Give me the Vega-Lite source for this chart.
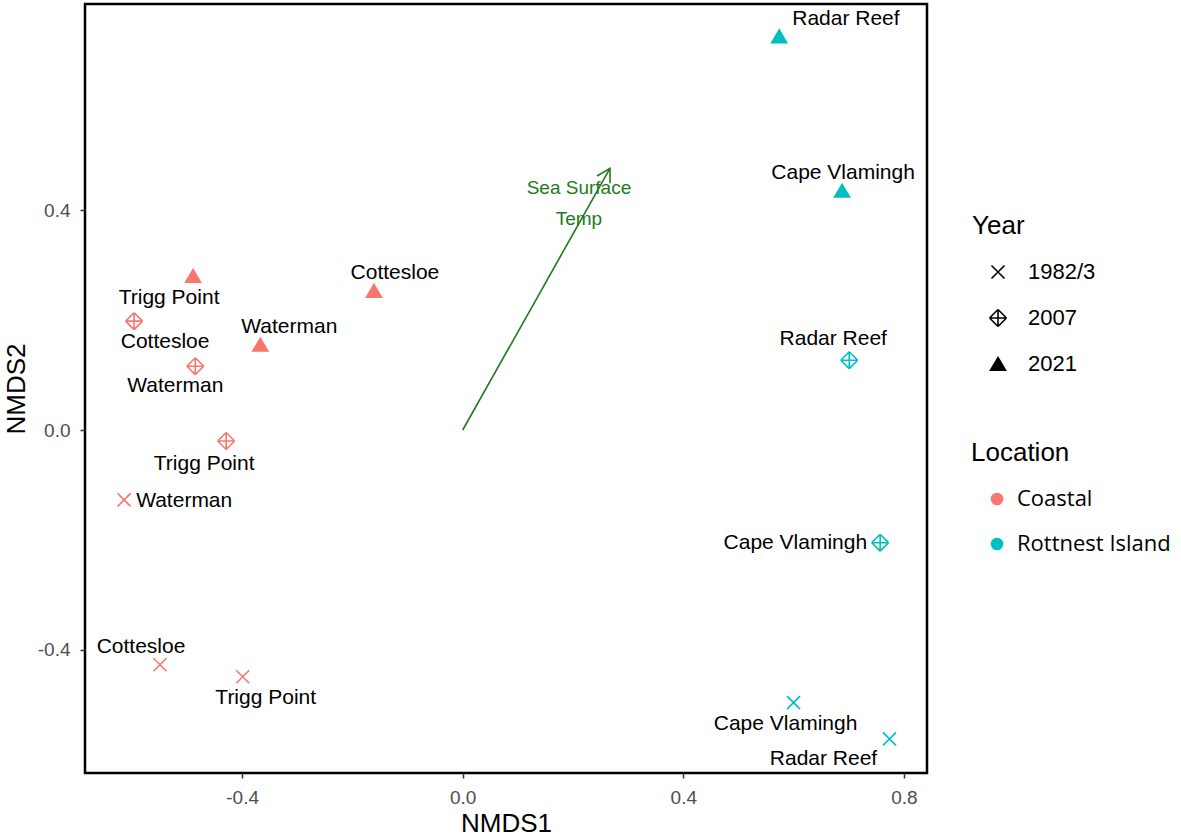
{
  "$schema": "https://vega.github.io/schema/vega-lite/v6.json",
  "autosize": "none",
  "width": 842,
  "height": 769,
  "padding": {"left": 85, "top": 4, "right": 254, "bottom": 65},
  "background": "white",
  "config": {
    "view": {"stroke": "black", "strokeWidth": 2.5},
    "font": "Liberation Sans",
    "axis": {
      "grid": false,
      "domain": false,
      "tickColor": "#333333",
      "tickSize": 5,
      "tickWidth": 1.5,
      "labelColor": "#4D4D4D",
      "labelFontSize": 19,
      "labelFont": "Liberation Sans",
      "titleFont": "Liberation Sans",
      "titleFontSize": 26,
      "titleFontWeight": "normal",
      "titleColor": "black"
    },
    "legend": {
      "titleFont": "Liberation Sans",
      "labelFont": "Liberation Sans",
      "titleFontWeight": "normal"
    }
  },
  "data": {
    "values": [
      {"Site": "Radar Reef", "Year": "2021", "Location": "Rottnest Island", "NMDS1": 0.574, "NMDS2": 0.716},
      {"Site": "Cape Vlamingh", "Year": "2021", "Location": "Rottnest Island", "NMDS1": 0.688, "NMDS2": 0.435},
      {"Site": "Radar Reef", "Year": "2007", "Location": "Rottnest Island", "NMDS1": 0.701, "NMDS2": 0.127},
      {"Site": "Cape Vlamingh", "Year": "2007", "Location": "Rottnest Island", "NMDS1": 0.757, "NMDS2": -0.205},
      {"Site": "Cape Vlamingh", "Year": "1982/3", "Location": "Rottnest Island", "NMDS1": 0.600, "NMDS2": -0.496},
      {"Site": "Radar Reef", "Year": "1982/3", "Location": "Rottnest Island", "NMDS1": 0.774, "NMDS2": -0.562},
      {"Site": "Trigg Point", "Year": "2021", "Location": "Coastal", "NMDS1": -0.489, "NMDS2": 0.280},
      {"Site": "Cottesloe", "Year": "2021", "Location": "Coastal", "NMDS1": -0.161, "NMDS2": 0.253},
      {"Site": "Waterman", "Year": "2021", "Location": "Coastal", "NMDS1": -0.367, "NMDS2": 0.155},
      {"Site": "Cottesloe", "Year": "2007", "Location": "Coastal", "NMDS1": -0.596, "NMDS2": 0.198},
      {"Site": "Waterman", "Year": "2007", "Location": "Coastal", "NMDS1": -0.485, "NMDS2": 0.116},
      {"Site": "Trigg Point", "Year": "2007", "Location": "Coastal", "NMDS1": -0.429, "NMDS2": -0.020},
      {"Site": "Waterman", "Year": "1982/3", "Location": "Coastal", "NMDS1": -0.614, "NMDS2": -0.127},
      {"Site": "Cottesloe", "Year": "1982/3", "Location": "Coastal", "NMDS1": -0.549, "NMDS2": -0.427},
      {"Site": "Trigg Point", "Year": "1982/3", "Location": "Coastal", "NMDS1": -0.399, "NMDS2": -0.449}
    ]
  },
  "encoding": {
    "x": {
      "field": "NMDS1", "type": "quantitative",
      "scale": {"domain": [-0.685, 0.842], "nice": false, "zero": false},
      "axis": {"title": "NMDS1", "values": [-0.4, 0, 0.4, 0.8], "labelExpr": "replace(format(datum.value, '.1f'), '\u2212', '-')", "labelPadding": 10, "titlePadding": 3}
    },
    "y": {
      "field": "NMDS2", "type": "quantitative",
      "scale": {"domain": [-0.624, 0.775], "nice": false, "zero": false},
      "axis": {"title": "NMDS2", "values": [-0.4, 0, 0.4], "labelExpr": "replace(format(datum.value, '.1f'), '\u2212', '-')", "labelPadding": 10, "titlePadding": 8}
    }
  },
  "layer": [
    {
      "data": {"values": [{"Variable": "Sea Surface\nTemp", "NMDS1": 0.267, "NMDS2": 0.476, "origin": 0}]},
      "mark": {"type": "rule", "color": "#1f7a1f", "strokeWidth": 1.6},
      "encoding": {"x2": {"field": "origin"}, "y2": {"field": "origin"}}
    },
    {
      "data": {"values": [{"Variable": "Sea Surface\nTemp", "NMDS1": 0.267, "NMDS2": 0.476, "origin": 0}]},
      "mark": {"type": "point", "shape": "M-0.5,0.866L0,0L0.5,0.866", "size": 900, "filled": false, "color": "#1f7a1f", "strokeWidth": 1.6, "angle": 29.5, "opacity": 1}
    },
    {
      "data": {"values": [{"Variable": "Sea Surface\nTemp", "NMDS1": 0.267, "NMDS2": 0.476, "origin": 0}]},
      "mark": {"type": "text", "color": "#1f7a1f", "fontSize": 19, "lineBreak": "\n", "lineHeight": 31, "align": "center", "baseline": "middle", "dx": -31, "dy": 20},
      "encoding": {"text": {"field": "Variable"}}
    },
    {
      "mark": {"type": "point", "filled": true, "size": 169, "strokeWidth": 1.6, "opacity": 1},
      "encoding": {
        "shape": {
          "field": "Year", "type": "nominal",
          "scale": {"domain": ["1982/3", "2007", "2021"], "range": ["M-1,-1L1,1M-1,1L1,-1", "M0,-1.3L1.3,0M1.3,0L0,1.3M0,1.3L-1.3,0M-1.3,0L0,-1.3M0,-1.3L0,1.3M-1.3,0L1.3,0", "M0,-1L1.15,0.95L-1.15,0.95Z"]},
          "legend": {"orient": "none", "legendX": 887, "legendY": 209, "title": "Year", "titleFontSize": 26, "titlePadding": 22, "labelFontSize": 22, "rowPadding": 23, "symbolSize": 169, "symbolFillColor": "black", "symbolStrokeColor": "black", "symbolStrokeWidth": 1.6, "symbolOffset": 15, "labelOffset": 19}
        },
        "color": {
          "field": "Location", "type": "nominal",
          "scale": {"domain": ["Coastal", "Rottnest Island"], "range": ["#F8766D", "#00BFC4"]},
          "legend": {"orient": "none", "legendX": 886, "legendY": 436, "title": "Location", "titleFontSize": 26, "titlePadding": 22, "labelFontSize": 22, "labelFont": "Open Sans", "rowPadding": 23, "symbolType": "circle", "symbolSize": 160, "symbolStrokeWidth": 0, "symbolOffset": 15, "labelOffset": 9}
        },
        "stroke": {
          "field": "Location", "type": "nominal",
          "scale": {"domain": ["Coastal", "Rottnest Island"], "range": ["#F8766D", "#00BFC4"]},
          "legend": null
        }
      }
    },
    {"transform": [{"filter": "datum.Site === 'Radar Reef' && datum.Year === '2021'"}], "mark": {"type": "text", "fontSize": 21, "color": "black", "align": "left", "baseline": "middle", "dx": 13, "dy": -17}, "encoding": {"text": {"field": "Site"}}},
    {"transform": [{"filter": "datum.Site === 'Cape Vlamingh' && datum.Year === '2021'"}], "mark": {"type": "text", "fontSize": 21, "color": "black", "align": "center", "baseline": "middle", "dx": 1, "dy": -18}, "encoding": {"text": {"field": "Site"}}},
    {"transform": [{"filter": "datum.Site === 'Radar Reef' && datum.Year === '2007'"}], "mark": {"type": "text", "fontSize": 21, "color": "black", "align": "center", "baseline": "middle", "dx": -16, "dy": -21}, "encoding": {"text": {"field": "Site"}}},
    {"transform": [{"filter": "datum.Site === 'Cape Vlamingh' && datum.Year === '2007'"}], "mark": {"type": "text", "fontSize": 21, "color": "black", "align": "right", "baseline": "middle", "dx": -13, "dy": 0}, "encoding": {"text": {"field": "Site"}}},
    {"transform": [{"filter": "datum.Site === 'Cape Vlamingh' && datum.Year === '1982/3'"}], "mark": {"type": "text", "fontSize": 21, "color": "black", "align": "center", "baseline": "middle", "dx": -8, "dy": 21}, "encoding": {"text": {"field": "Site"}}},
    {"transform": [{"filter": "datum.Site === 'Radar Reef' && datum.Year === '1982/3'"}], "mark": {"type": "text", "fontSize": 21, "color": "black", "align": "center", "baseline": "middle", "dx": -66, "dy": 20}, "encoding": {"text": {"field": "Site"}}},
    {"transform": [{"filter": "datum.Site === 'Trigg Point' && datum.Year === '2021'"}], "mark": {"type": "text", "fontSize": 21, "color": "black", "align": "center", "baseline": "middle", "dx": -24, "dy": 22}, "encoding": {"text": {"field": "Site"}}},
    {"transform": [{"filter": "datum.Site === 'Cottesloe' && datum.Year === '2021'"}], "mark": {"type": "text", "fontSize": 21, "color": "black", "align": "center", "baseline": "middle", "dx": 21, "dy": -18}, "encoding": {"text": {"field": "Site"}}},
    {"transform": [{"filter": "datum.Site === 'Waterman' && datum.Year === '2021'"}], "mark": {"type": "text", "fontSize": 21, "color": "black", "align": "center", "baseline": "middle", "dx": 29, "dy": -18}, "encoding": {"text": {"field": "Site"}}},
    {"transform": [{"filter": "datum.Site === 'Cottesloe' && datum.Year === '2007'"}], "mark": {"type": "text", "fontSize": 21, "color": "black", "align": "center", "baseline": "middle", "dx": 31, "dy": 21}, "encoding": {"text": {"field": "Site"}}},
    {"transform": [{"filter": "datum.Site === 'Waterman' && datum.Year === '2007'"}], "mark": {"type": "text", "fontSize": 21, "color": "black", "align": "center", "baseline": "middle", "dx": -20, "dy": 20}, "encoding": {"text": {"field": "Site"}}},
    {"transform": [{"filter": "datum.Site === 'Trigg Point' && datum.Year === '2007'"}], "mark": {"type": "text", "fontSize": 21, "color": "black", "align": "center", "baseline": "middle", "dx": -22, "dy": 23}, "encoding": {"text": {"field": "Site"}}},
    {"transform": [{"filter": "datum.Site === 'Waterman' && datum.Year === '1982/3'"}], "mark": {"type": "text", "fontSize": 21, "color": "black", "align": "left", "baseline": "middle", "dx": 12, "dy": 1}, "encoding": {"text": {"field": "Site"}}},
    {"transform": [{"filter": "datum.Site === 'Cottesloe' && datum.Year === '1982/3'"}], "mark": {"type": "text", "fontSize": 21, "color": "black", "align": "center", "baseline": "middle", "dx": -19, "dy": -18}, "encoding": {"text": {"field": "Site"}}},
    {"transform": [{"filter": "datum.Site === 'Trigg Point' && datum.Year === '1982/3'"}], "mark": {"type": "text", "fontSize": 21, "color": "black", "align": "center", "baseline": "middle", "dx": 23, "dy": 21}, "encoding": {"text": {"field": "Site"}}}
  ]
}
